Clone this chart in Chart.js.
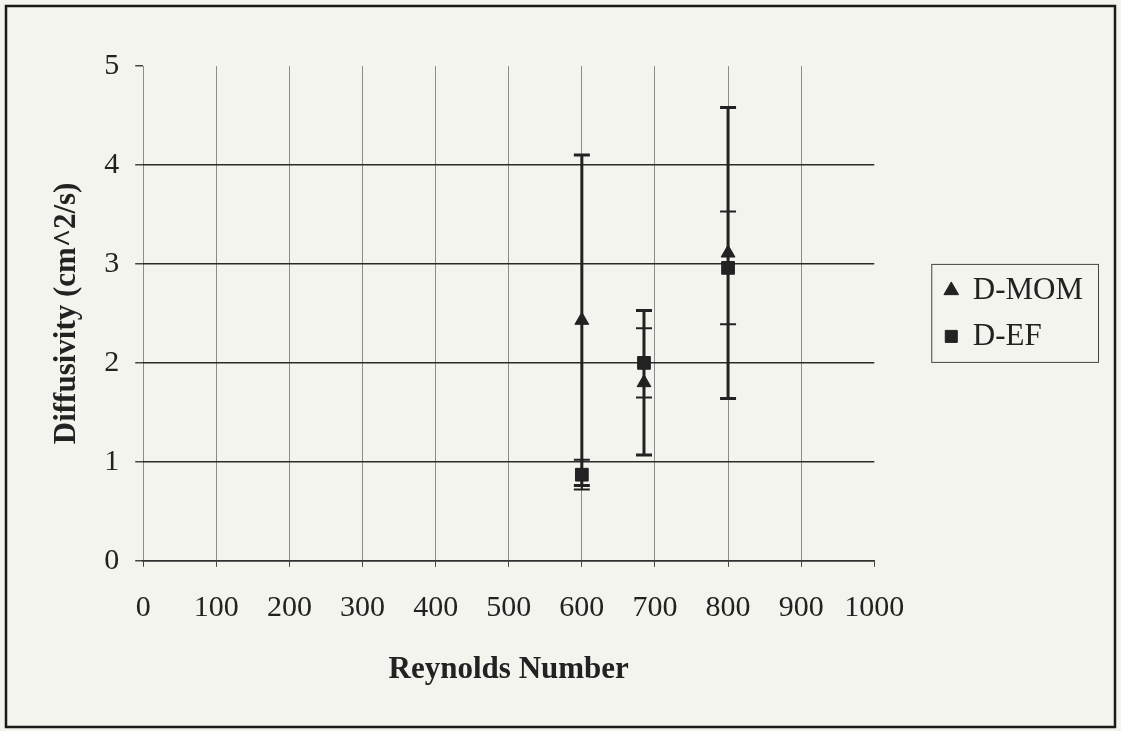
<!DOCTYPE html>
<html>
<head>
<meta charset="utf-8">
<title>Diffusivity vs Reynolds Number</title>
<script src="https://cdn.jsdelivr.net/npm/chart.js@4/dist/chart.umd.min.js"></script>
<style>
  html, body { margin: 0; padding: 0; background: #f4f4ee; }
  canvas { display: block; }
</style>
</head>
<body>
<canvas id="diffusivityChart" width="1121" height="731"></canvas>
<script>
// Measured diffusivities at three Reynolds numbers, with +/- error half-widths
const reynolds = [600, 685, 800];
const dMom = [2.43, 1.80, 3.11];
const dMomErr = [1.67, 0.73, 1.47];
const dEf = [0.87, 2.00, 2.96];
const dEfErr = [0.15, 0.35, 0.57];

const xTicks = [0, 100, 200, 300, 400, 500, 600, 700, 800, 900, 1000];
const yTicks = [0, 1, 2, 3, 4, 5];

const serif = '"Liberation Serif", "Times New Roman", serif';
const ink = '#222';

// page background and outer frame
const frame = {
    id: 'frame',
    beforeDraw(chart) {
        const ctx = chart.ctx;
        ctx.save();
        ctx.fillStyle = '#f4f4ee';
        ctx.fillRect(0, 0, chart.width, chart.height);
        ctx.strokeStyle = '#1a1a1a';
        ctx.lineWidth = 2.5;
        ctx.strokeRect(6, 6, chart.width - 12, chart.height - 10);
        ctx.restore();
    }
};

// vertical error bars with end caps, drawn under the markers
const errorBars = {
    id: 'errorBars',
    beforeDatasetsDraw(chart) {
        const ctx = chart.ctx;
        const x = chart.scales.x;
        const y = chart.scales.y;
        chart.data.datasets.forEach((ds) => {
            ctx.save();
            ctx.strokeStyle = ink;
            ctx.lineWidth = ds.errorWidth;
            ds.data.forEach((pt, j) => {
                const px = x.getPixelForValue(pt.x);
                const top = y.getPixelForValue(pt.y + ds.errors[j]);
                const bot = y.getPixelForValue(pt.y - ds.errors[j]);
                ctx.beginPath();
                ctx.moveTo(px, top);
                ctx.lineTo(px, bot);
                ctx.moveTo(px - 8, top);
                ctx.lineTo(px + 8, top);
                ctx.moveTo(px - 8, bot);
                ctx.lineTo(px + 8, bot);
                ctx.stroke();
            });
            ctx.restore();
        });
    }
};

// thin box around the legend entries
const legendBox = {
    id: 'legendBox',
    afterDraw(chart) {
        const boxes = chart.legend.legendHitBoxes;
        if (!boxes || !boxes.length) return;
        const left = Math.min(...boxes.map(b => b.left)) - 14;
        const right = Math.max(...boxes.map(b => b.left + b.width)) + 15;
        const top = Math.min(...boxes.map(b => b.top)) - 11;
        const bottom = Math.max(...boxes.map(b => b.top + b.height)) + 10;
        const ctx = chart.ctx;
        ctx.save();
        ctx.strokeStyle = '#444';
        ctx.lineWidth = 1;
        ctx.strokeRect(left + 0.5, top + 0.5, right - left, bottom - top);
        ctx.restore();
    }
};

new Chart(document.getElementById('diffusivityChart'), {
    type: 'scatter',
    data: {
        datasets: [
            {
                label: 'D-MOM',
                data: reynolds.map((r, i) => ({ x: r, y: dMom[i] })),
                errors: dMomErr,
                errorWidth: 3,
                pointStyle: 'triangle',
                pointRadius: 8,
                backgroundColor: ink,
                borderColor: ink,
                borderWidth: 1
            },
            {
                label: 'D-EF',
                data: reynolds.map((r, i) => ({ x: r, y: dEf[i] })),
                errors: dEfErr,
                errorWidth: 2,
                pointStyle: 'rect',
                pointRadius: 9,
                backgroundColor: ink,
                borderColor: ink,
                borderWidth: 1
            }
        ]
    },
    options: {
        responsive: false,
        animation: false,
        layout: {
            padding: { left: 10, top: 66, right: 28, bottom: 42 }
        },
        scales: {
            x: {
                type: 'linear',
                min: 0,
                max: 1000,
                afterBuildTicks: (scale) => { scale.ticks = xTicks.map(v => ({ value: v })); },
                ticks: {
                    color: ink,
                    padding: 23,
                    maxRotation: 0,
                    font: { family: serif, size: 30 },
                    callback: (v) => String(v)
                },
                grid: {
                    color: (c) => c.tick && c.tick.value === 1000 ? 'rgba(0,0,0,0)' : '#8c8c8c',
                    lineWidth: 1,
                    tickColor: '#444',
                    tickLength: 6
                },
                border: { color: '#333', width: 1.5 },
                title: {
                    display: true,
                    text: 'Reynolds Number',
                    color: ink,
                    font: { family: serif, size: 31, weight: 'bold' },
                    padding: { top: 3, bottom: 0 }
                }
            },
            y: {
                type: 'linear',
                min: 0,
                max: 5,
                afterBuildTicks: (scale) => { scale.ticks = yTicks.map(v => ({ value: v })); },
                ticks: {
                    color: ink,
                    padding: 16,
                    font: { family: serif, size: 30 }
                },
                grid: {
                    color: (c) => c.tick && c.tick.value === 5 ? 'rgba(0,0,0,0)' : '#2a2a2a',
                    lineWidth: 1.5,
                    tickColor: '#444',
                    tickLength: 8
                },
                border: { display: false },
                title: {
                    display: true,
                    text: 'Diffusivity (cm^2/s)',
                    color: ink,
                    font: { family: serif, size: 31, weight: 'bold' },
                    padding: { top: 38, bottom: 3 }
                }
            },
            // empty right-hand axis, keeps the legend clear of the plot
            gap: {
                type: 'linear',
                position: 'right',
                display: true,
                grid: { display: false },
                border: { display: false },
                ticks: { display: false },
                afterFit: (scale) => { scale.width = 56; }
            }
        },
        plugins: {
            legend: {
                position: 'right',
                fullSize: false,
                labels: {
                    usePointStyle: true,
                    boxWidth: 12,
                    boxHeight: 12,
                    padding: 15,
                    color: ink,
                    font: { family: serif, size: 31 }
                }
            },
            tooltip: { enabled: false }
        }
    },
    plugins: [frame, errorBars, legendBox]
});
</script>
</body>
</html>
